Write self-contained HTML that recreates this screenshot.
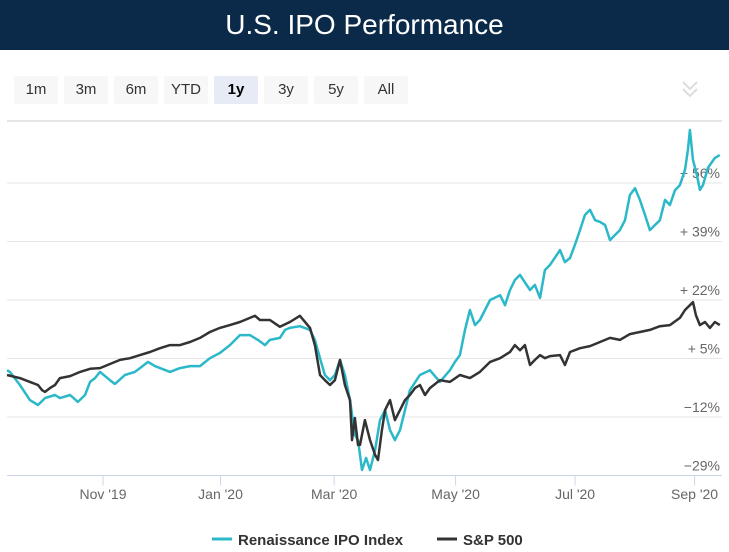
<!DOCTYPE html>
<html><head><meta charset="utf-8">
<style>
body{margin:0;width:729px;height:552px;overflow:hidden;background:#fff;font-family:"Liberation Sans",sans-serif;position:relative}
#title{position:absolute;left:0;top:0;width:729px;height:50px;background:#0b2a4a;color:#fff;font-size:28px;text-align:center;line-height:50px}
.btn{position:absolute;top:76px;width:44px;height:28px;background:#f7f7f7;border-radius:2px;text-align:center;line-height:28px;font-size:15px;color:#333}
.btn.sel{background:#e6ebf5;font-weight:bold;color:#000}
svg{position:absolute;left:0;top:0}
</style></head><body>
<div id="title">U.S. IPO Performance</div>
<div class="btn" style="left:14px">1m</div>
<div class="btn" style="left:64px">3m</div>
<div class="btn" style="left:114px">6m</div>
<div class="btn" style="left:164px">YTD</div>
<div class="btn sel" style="left:214px">1y</div>
<div class="btn" style="left:264px">3y</div>
<div class="btn" style="left:314px">5y</div>
<div class="btn" style="left:364px">All</div>
<svg id="chart" width="729" height="552">
<g fill="none" stroke="#ddd" stroke-width="2">
<polyline points="683,82 690,89 697,82"/><polyline points="683,89 690,96 697,89"/></g>
<line x1="7" y1="121" x2="722" y2="121" stroke="#e6e6e6" stroke-width="2"/>
<g id="grid"></g><g id="xaxis"></g><g id="series"></g>
<g>
<g><line x1="212" y1="539" x2="232" y2="539" stroke="#2bb8c8" stroke-width="3"/>
<text x="238" y="545" font-size="15" font-weight="bold" fill="#333">Renaissance IPO Index</text></g>
<g><line x1="437" y1="539" x2="457" y2="539" stroke="#333" stroke-width="3"/>
<text x="463" y="545" font-size="15" font-weight="bold" fill="#333">S&amp;P 500</text></g>
</g>
</svg>
<script>
const yTicks=[56,39,22,5,-12,-29];
const yTickLabels=["+ 56%","+ 39%","+ 22%","+ 5%","−12%","−29%"];
const xTickDays=[49,109,167,229,290,351];
const xTickLabels=["Nov '19","Jan '20","Mar '20","May '20","Jul '20","Sep '20"];
const ipoDays=[0,1.5,6.6,11.7,15.8,19.4,24.5,27,32.2,36.2,39.8,42.4,44.9,47.5,52.6,55.1,60.2,65.3,67.9,72,75.5,78.1,83.2,88.3,93.4,98.5,103.6,108.7,113.8,118.9,124,128.1,131.7,134.2,139.3,141.9,144.4,149.5,154.7,157.2,159.8,162.3,164.9,167.4,170,172.5,175.1,177.6,179.2,181.2,183.3,185.3,187.9,190.4,193,195.5,198,200.6,203.2,205.7,210.8,215.9,221,226.1,228.7,231.2,233.8,236.3,238.9,241.4,246.6,251.7,254.2,256.8,259.3,261.9,267,269.5,272.1,274.6,277.2,282.3,284.8,287.4,289.9,292.5,295,297.6,300.2,302.7,305.3,307.8,310.4,312.9,315.5,318,320.6,323.1,325.7,328.2,330.8,333.3,335.9,338.4,341,343.5,346.1,347.6,348.6,350.2,352.2,353.7,355.3,357.8,361.4,363.9];
const ipoVals=[1.6,1.1,-2.7,-7.1,-8.5,-6.5,-5.6,-6.5,-5.6,-7.6,-5.6,-1.8,-0.7,1.1,-1.3,-2.4,0.2,1.1,2.2,4.0,2.8,2.2,1.1,2.2,2.8,2.8,5.1,6.6,8.9,11.8,11.8,10.4,8.9,10.4,11.0,13.3,13.9,14.4,13.3,10.4,5.1,0.2,-1.3,0.2,4.6,0.2,-7.1,-17.2,-18.7,-27.4,-23.9,-27.4,-21.6,-12.9,-10.0,-15.8,-18.7,-15.8,-10.0,-4.2,0.2,1.6,-1.8,1.6,4.0,6.0,13.3,19.1,14.7,16.2,22.0,23.4,20.5,24.9,27.8,29.3,24.9,26.4,22.6,30.7,32.2,36.5,33.0,34.2,38.0,42.3,46.7,48.2,45.2,44.7,43.8,39.4,40.9,42.3,45.2,52.5,54.5,51.1,46.7,42.3,43.8,45.2,51.1,49.6,53.9,55.4,59.8,65.6,71.4,62.7,58.3,54.0,55.4,60.4,63.3,64.1];
const spDays=[0,6.6,11.7,15.8,17.9,19.4,21.9,24.5,27,32.2,37.3,42.4,47.5,52.6,57.7,62.8,67.9,73,78.1,83.2,88.3,93.4,98.5,103.6,108.7,113.8,118.9,124,126.6,129.1,134.2,139.3,144.4,149.5,154.7,157.2,159.8,162.3,164.9,167.4,170,172.5,175.1,176.1,177.6,179.2,180.2,182.7,185.3,187.9,189.4,191.4,193,195.5,198,200.6,203.2,205.7,208.3,210.8,213.4,215.9,221,226.1,231.2,236.3,241.4,246.6,251.7,256.8,259.3,261.9,264.4,267,269.5,272.1,274.6,277.2,282.3,284.8,287.4,292.5,297.6,302.7,307.8,312.9,318,323.1,328.2,333.3,338.4,343.5,346.1,348.6,350.2,351.7,353.7,356.3,358.8,361.4,363.9];
const spVals=[0.2,-0.7,-1.8,-2.7,-4.2,-4.7,-3.6,-2.7,-0.7,-0.1,1.1,2.0,2.2,3.4,4.6,5.1,6.0,6.9,8.0,8.9,8.9,9.8,11.0,12.7,13.9,14.7,15.6,16.8,17.4,16.2,16.2,14.2,15.6,17.4,13.9,8.9,0.2,-1.3,-2.7,-1.3,4.6,-2.7,-7.1,-18.7,-12.3,-20.1,-20.1,-12.9,-18.7,-23.0,-24.5,-15.8,-10.0,-7.1,-12.9,-10.0,-7.1,-5.6,-3.6,-2.7,-5.6,-3.6,-1.3,-1.8,0.2,-0.7,1.1,4.0,5.1,6.9,8.9,7.4,8.9,3.1,4.6,6.0,5.1,5.7,6.0,3.1,6.9,8.0,8.6,9.8,11.0,10.4,12.1,12.7,13.3,14.4,14.7,16.8,19.1,20.5,21.4,17.6,14.7,15.6,13.9,15.6,14.7];

const X0=7,X1=722,D0=0,D1=365;
const xs=d=>X0+(d-D0)/(D1-D0)*(X1-X0);
const ys=v=>183+(56-v)/17*58.5;
const NS="http://www.w3.org/2000/svg";
function mk(tag,attrs,parent){const e=document.createElementNS(NS,tag);for(const k in attrs)e.setAttribute(k,attrs[k]);parent.appendChild(e);return e;}
const grid=document.getElementById('grid');
yTicks.forEach((t,i)=>{
  const y=ys(t);
  const l=mk('line',{x1:X0,x2:X1,y1:y,y2:y,stroke:i===yTicks.length-1?'#ccd6eb':'#e6e6e6','stroke-width':1},grid);
  
  
  const tx=mk('text',{x:720,y:y-5,'text-anchor':'end','font-size':14,fill:'#666'},grid);
  tx.textContent=yTickLabels[i];
  
  
});
const xa=document.getElementById('xaxis');
xTickDays.forEach((d,i)=>{
  const x=xs(d);
  const l=mk('line',{x1:x,x2:x,y1:ys(-29),y2:ys(-29)+10,stroke:'#ccd6eb'},xa);
  
  
  const tx=mk('text',{x:x,y:499,'text-anchor':'middle','font-size':14,fill:'#666'},xa);
  tx.textContent=xTickLabels[i];
  
  
});
const sg=document.getElementById('series');
function line(days,vals,color,name){
  const p=mk('polyline',{points:days.map((d,i)=>xs(d).toFixed(1)+','+ys(vals[i]).toFixed(1)).join(' '),fill:'none',stroke:color,'stroke-width':2.5,'stroke-linejoin':'round'},sg);
  
  
}
line(ipoDays,ipoVals,'#2bb8c8','ipo-index-line');
line(spDays,spVals,'#333333','sp500-line');
</script>
</body></html>
